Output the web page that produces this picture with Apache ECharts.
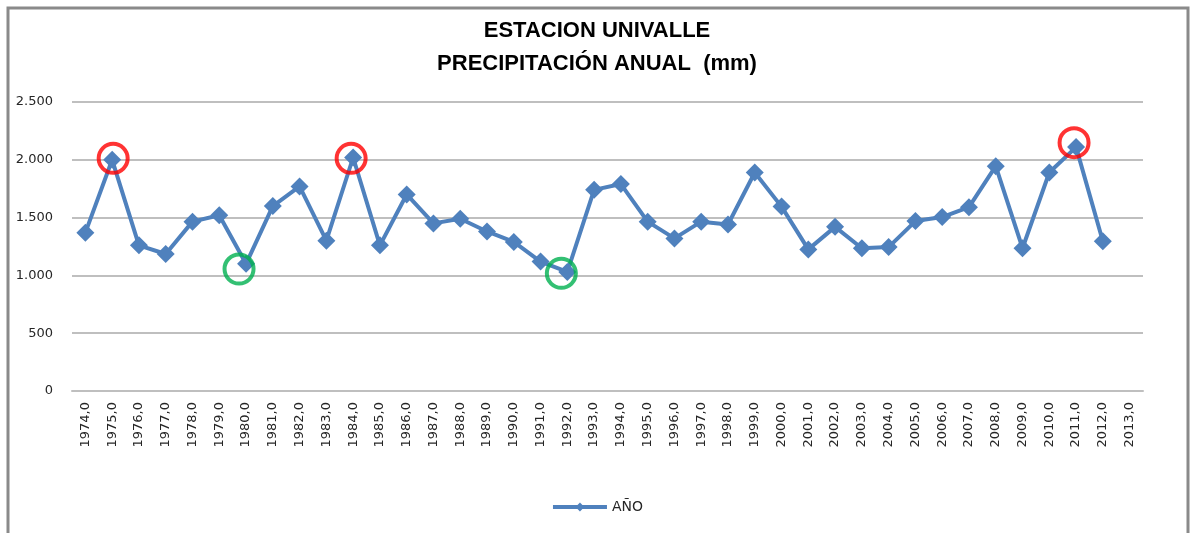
<!DOCTYPE html>
<html>
<head>
<meta charset="utf-8">
<title>Estación Univalle - Precipitación anual</title>
<script src="https://cdn.jsdelivr.net/npm/echarts@6/dist/echarts.min.js"></script>
<style>
  html, body { margin: 0; padding: 0; background: #ffffff; }
  #chart { width: 1194px; height: 533px; }
</style>
</head>
<body>
<div id="chart"></div>
<script>
// Annual precipitation (mm) per year, Univalle station
const years = [
  1974, 1975, 1976, 1977, 1978, 1979, 1980, 1981, 1982, 1983,
  1984, 1985, 1986, 1987, 1988, 1989, 1990, 1991, 1992, 1993,
  1994, 1995, 1996, 1997, 1998, 1999, 2000, 2001, 2002, 2003,
  2004, 2005, 2006, 2007, 2008, 2009, 2010, 2011, 2012, 2013
];
const precipitation = [
  1370, 2000, 1260, 1185, 1465, 1520, 1100, 1600, 1770, 1300,
  2020, 1260, 1700, 1450, 1490, 1380, 1290, 1120, 1030, 1740,
  1790, 1465, 1320, 1465, 1440, 1890, 1595, 1225, 1420, 1235,
  1245, 1470, 1505, 1590, 1945, 1235, 1890, 2110, 1295, null
];
const yTicks = [0, 500, 1000, 1500, 2000, 2500];

// Highlighted wet years (red rings) and dry years (green rings)
const wetYears = [1975, 1984, 2011];
const wetRingValues = [2013, 2013, 2148];
const dryYears = [1980, 1992];
const dryRingValues = [1055, 1018];

const categoryLabels = years.map(y => y + ',0');
const fmtThousands = v => String(v).replace(/\B(?=(\d{3})+(?!\d))/g, '.');

const ring = (yrs, vals, color, offsets) => ({
  type: 'scatter',
  silent: true,
  z: 5,
  symbol: 'circle',
  symbolSize: 29,
  itemStyle: { color: 'rgba(0,0,0,0)', borderColor: color, borderWidth: 4 },
  data: yrs.map((y, i) => ({
    value: [y + ',0', vals[i]],
    symbolOffset: [offsets[i], 0]
  }))
});

const chart = echarts.init(document.getElementById('chart'), null, { renderer: 'canvas' });

chart.setOption({
  animation: false,
  backgroundColor: '#ffffff',
  title: {
    text: 'ESTACION UNIVALLE\nPRECIPITACIÓN ANUAL  (mm)',
    left: 'center',
    top: 9,
    textStyle: {
      fontFamily: 'Liberation Sans',
      fontWeight: 'bold',
      fontSize: 22,
      lineHeight: 33,
      color: '#000000'
    }
  },
  legend: {
    data: ['AÑO'],
    top: 495,
    left: 'center',
    itemWidth: 54,
    itemHeight: 11,
    itemGap: 4,
    lineStyle: { width: 4, color: '#4f81bd' },
    textStyle: { fontFamily: 'DejaVu Sans', fontSize: 14, color: '#262626' }
  },
  grid: { left: 72, right: 51, top: 102, bottom: 142, containLabel: false },
  xAxis: {
    type: 'category',
    data: categoryLabels,
    boundaryGap: true,
    axisLine: { lineStyle: { color: '#bfbfbf', width: 2 } },
    axisTick: { show: false },
    axisLabel: {
      rotate: 90,
      interval: 0,
      margin: 11,
      fontFamily: 'DejaVu Sans',
      fontSize: 13,
      color: '#262626'
    }
  },
  yAxis: {
    type: 'value',
    min: yTicks[0],
    max: yTicks[yTicks.length - 1],
    interval: yTicks[1] - yTicks[0],
    axisLine: { show: false },
    axisTick: { show: false },
    splitLine: { lineStyle: { color: '#bfbfbf', width: 2 } },
    axisLabel: {
      margin: 19,
      fontFamily: 'DejaVu Sans',
      fontSize: 13,
      color: '#262626',
      formatter: v => fmtThousands(v)
    }
  },
  series: [
    {
      name: 'AÑO',
      type: 'line',
      data: precipitation,
      symbol: 'diamond',
      symbolSize: 18,
      connectNulls: false,
      lineStyle: { color: '#4f81bd', width: 4 },
      itemStyle: { color: '#4f81bd' },
      z: 3
    },
    ring(wetYears, wetRingValues, '#ff0000', [1, -2, -2]),
    ring(dryYears, dryRingValues, '#00b050', [-7, -6])
  ],
  graphic: [
    {
      type: 'rect',
      shape: { x: 8, y: 8, width: 1180, height: 540 },
      style: { fill: 'none', stroke: '#8a8a8a', lineWidth: 3 },
      silent: true,
      z: 100
    }
  ]
});
</script>
</body>
</html>
